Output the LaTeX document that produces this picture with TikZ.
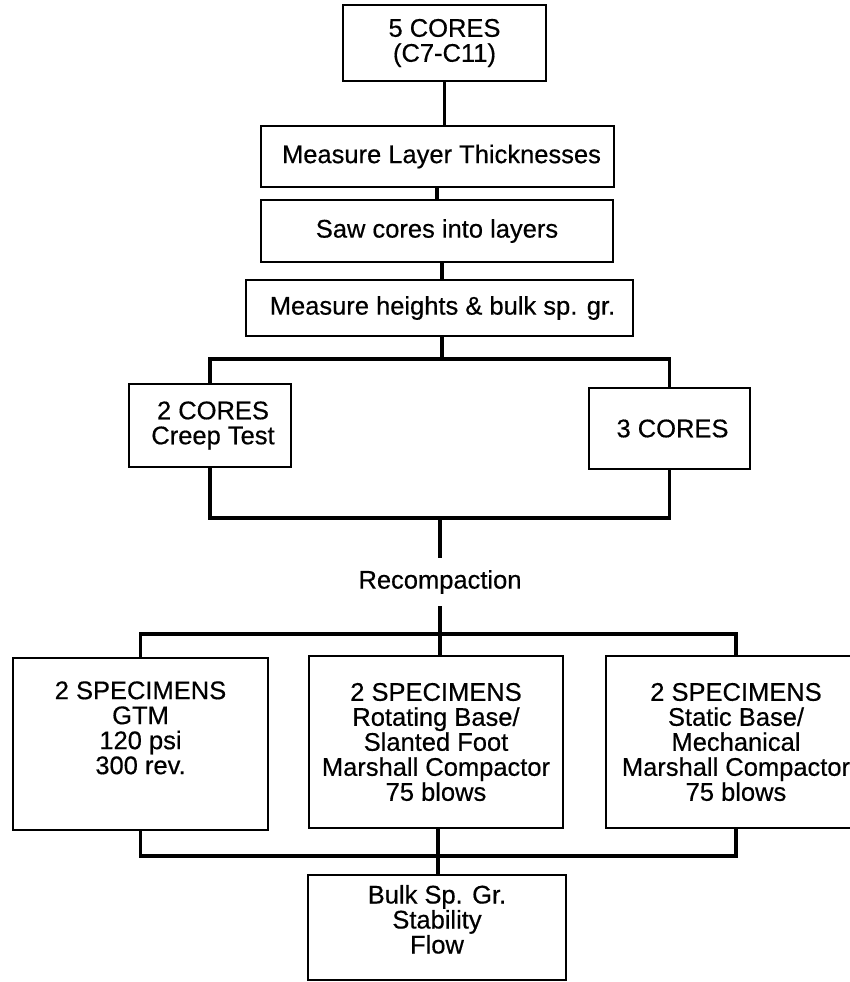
\documentclass[tikz,border=0pt]{standalone}
\usepackage{fontspec}
\setmainfont[FakeBold=0.5]{Liberation Sans}
\usetikzlibrary{calc}

\begin{document}
\begin{tikzpicture}[
        x=1pt,
        y=-1pt,
        stepbox/.style={
                draw,
                line width=2.2pt,
                align=center,
                inner sep=0pt,
                font=\fontsize{25.5}{25}\selectfont
                },
        link/.style={
                line width=3.4pt,
                line join=miter
                }
        ]

\useasboundingbox (0,0) rectangle (849,982);

%top column
\node[stepbox, minimum width=203pt, minimum height=76pt]
        (cores) at (444.5,43) {5 CORES\\(C7-C11)};
\node[stepbox, minimum width=353pt, minimum height=61pt]
        (layers) at (437.5,156.5) {\hspace{8pt}Measure Layer Thicknesses};
\node[stepbox, minimum width=352pt, minimum height=62pt]
        (saw) at (437,231) {Saw cores into layers};
\node[stepbox, minimum width=387pt, minimum height=56pt]
        (heights) at (439.5,308) {\hspace{6pt}Measure heights \& bulk sp. gr.};

%split into two groups
\node[stepbox, minimum width=162pt, minimum height=83pt]
        (creep) at (210,425.5) {\hspace{6pt}2 CORES\\\hspace{6pt}Creep Test};
\node[stepbox, minimum width=161pt, minimum height=81pt]
        (rest) at (669.5,428.5) {\hspace{6pt}3 CORES};

%label
\node[
        inner sep=0pt,
        minimum height=48pt,
        font=\fontsize{25.5}{25}\selectfont
        ]
        (recomp) at (440,582) {Recompaction};

%three compaction methods
\node[stepbox, minimum width=255pt, minimum height=172pt]
        (gtm) at (140.5,744) {2 SPECIMENS\\GTM\\120 psi\\300 rev.\\\strut};
\node[stepbox, minimum width=254pt, minimum height=172pt]
        (rotating) at (436,742) {2 SPECIMENS\\Rotating Base/\\Slanted Foot\\Marshall Compactor\\75 blows};
\node[stepbox, minimum width=260pt, minimum height=172pt]
        (static) at (736,742) {2 SPECIMENS\\Static Base/\\Mechanical\\Marshall Compactor\\75 blows};

%results
\node[stepbox, minimum width=258pt, minimum height=105pt]
        (results) at (437,927.5) {Bulk Sp. Gr.\\Stability\\Flow\\[-16pt]\strut};

%junctions
\coordinate (split) at (442,359);
\coordinate (join) at (440,518);
\coordinate (fan) at (440,634);
\coordinate (gather) at (438,856);

%connectors
\draw[link] (cores.south) -- (cores.south |- layers.north);
\draw[link] (saw.north) -- (saw.north |- layers.south);
\draw[link] (saw.south -| split) -- (split |- heights.north);
\draw[link] (split |- heights.south) -- (split);
\draw[link] (creep.north) |- (split) -| (rest.north);
\draw[link] (creep.south) |- (join) -| (rest.south);
\draw[link] (join) -- (recomp.north);
\draw[link] (recomp.south) -- (fan);
\draw[link] (gtm.north) |- (fan) -| (static.north);
\draw[link] (fan) -- (fan |- rotating.north);
\draw[link] (gtm.south) |- (gather) -| (static.south);
\draw[link] (gather |- rotating.south) -- (gather |- results.north);
\end{tikzpicture}
\end{document}
